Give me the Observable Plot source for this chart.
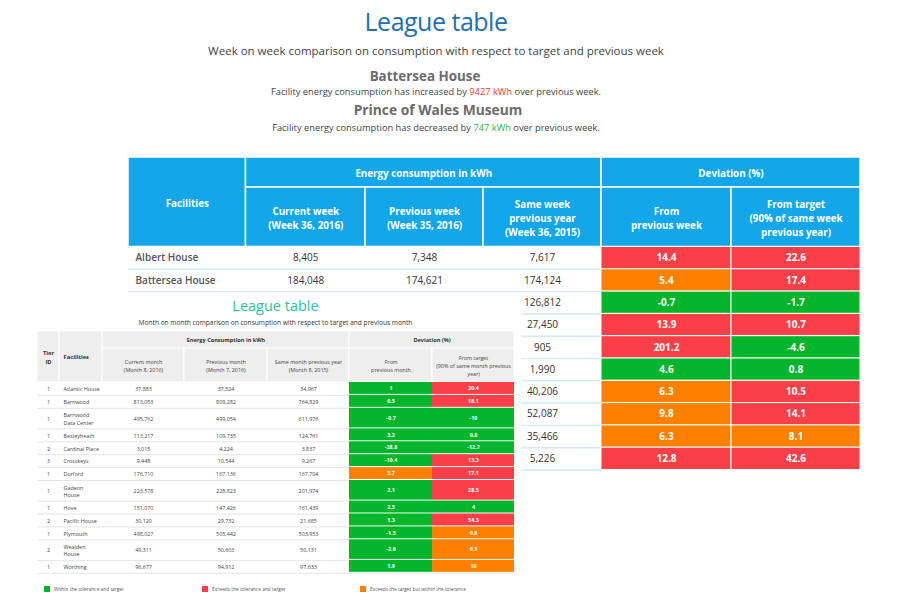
<!DOCTYPE html>
<html>
<head>
<meta charset="utf-8">
<script src="https://cdn.jsdelivr.net/npm/d3@7"></script>
<script src="https://cdn.jsdelivr.net/npm/@observablehq/plot@0.6"></script>
<style>
  body { margin: 0; background: #fff; }
  #page { position: relative; width: 900px; height: 600px; overflow: hidden; background: #fff; font-family: "Open Sans", sans-serif; }
  .ht { position: absolute; left: 0; width: 872px; text-align: center; white-space: nowrap; line-height: 1; }
  #t1 { top: 8.5px; font-size: 25px; color: #1f6fb0; letter-spacing: -0.5px; }
  #t2 { top: 44.5px; font-size: 11.5px; color: #444; }
  #t3 { top: 69.5px; font-size: 13.4px; font-weight: 700; color: #6b6b6b; left: -11px; }
  #t4 { top: 87px; font-size: 9.3px; color: #444; }
  #t5 { top: 102.5px; font-size: 13.8px; font-weight: 700; color: #6b6b6b; left: 2px; }
  #t6 { top: 122.5px; font-size: 9.3px; color: #444; }
  .up { color: #ef3e2a; }
  .down { color: #2fb24a; }
  #big { position: absolute; left: 128px; top: 157px; }
  #panel { position: absolute; left: 30px; top: 293px; width: 491px; height: 307px; background: #fff; }
  .st { position: absolute; left: 7px; width: 477px; text-align: center; white-space: nowrap; line-height: 1; }
  #s1 { top: 6.4px; font-size: 14.5px; color: #2fbf9f; }
  #s2 { top: 27.2px; font-size: 6.6px; color: #333; }
  #small { position: absolute; left: 7px; top: 38px; }
  #legend { position: absolute; left: 14px; top: 293px; }
  .sw-swatches { font-family: "Open Sans", sans-serif !important; font-size: 4.8px !important; color: #555; margin: 0 !important; min-height: 0 !important; line-height: 1; }
  .sw-swatch { width: 158px; margin-right: 0 !important; }
  .sw-swatch svg { margin-right: 4px !important; }
</style>
</head>
<body>
<div id="page">
  <div class="ht" id="t1">League table</div>
  <div class="ht" id="t2">Week on week comparison on consumption with respect to target and previous week</div>
  <div class="ht" id="t3"></div>
  <div class="ht" id="t4"></div>
  <div class="ht" id="t5"></div>
  <div class="ht" id="t6"></div>
  <div id="big"></div>
  <div id="panel">
    <div class="st" id="s1">League table</div>
    <div class="st" id="s2">Month on month comparison on consumption with respect to target and previous month</div>
    <div id="small"></div>
    <div id="legend"></div>
  </div>
</div>
<script>
// ---------------- DATA ----------------
// Highlights
const highlightFacilities = ["Battersea House", "Prince of Wales Museum"];
const highlightChange = [9427, 747];
const highlightDirection = ["increased", "decreased"];

// Weekly league table (rows 3-10: name / current / previous hidden in the picture)
const weekFacilities = ["Albert House", "Battersea House", null, null, null, null, null, null, null, null];
const weekCurrent = [8405, 184048, null, null, null, null, null, null, null, null];
const weekPrevious = [7348, 174621, null, null, null, null, null, null, null, null];
const weekSamePrevYear = [7617, 174124, 126812, 27450, 905, 1990, 40206, 52087, 35466, 5226];
const weekFromPrev = [14.4, 5.4, -0.7, 13.9, 201.2, 4.6, 6.3, 9.8, 6.3, 12.8];
const weekFromPrevStatus = ["R", "O", "G", "R", "R", "G", "O", "O", "O", "R"];
const weekFromTarget = [22.6, 17.4, -1.7, 10.7, -4.6, 0.8, 10.5, 14.1, 8.1, 42.6];
const weekFromTargetStatus = ["R", "R", "G", "R", "G", "G", "R", "R", "O", "R"];
const weekGroupHeaders = ["Energy consumption in kWh", "Deviation (%)"];
const weekColumnHeaders = ["Facilities", "Current week\n(Week 36, 2016)", "Previous week\n(Week 35, 2016)",
  "Same week\nprevious year\n(Week 36, 2015)", "From\nprevious week", "From target\n(90% of same week\nprevious year)"];

// Monthly league table
const monthTier = [1, 1, 1, 1, 2, 3, 1, 1, 1, 2, 1, 2, 1];
const monthFacilities = ["Atlantic House", "Barnwood", "Barnwood\nData Center", "Bexleyheath", "Cardinal Place", "Crosskeys",
  "Dorford", "Gadeon\nHouse", "Hove", "Pacific House", "Plymouth", "Wealden\nHouse", "Worthing"];
const monthCurrent = [37883, 813053, 495762, 113217, 3015, 9448, 176710, 223578, 151070, 30120, 498027, 49311, 96677];
const monthPrevious = [37524, 809282, 499054, 109735, 4224, 10544, 167136, 228823, 147426, 29732, 505442, 50603, 94912];
const monthSamePrevYear = [34967, 764829, 611976, 124761, 3837, 9267, 167704, 201974, 161439, 21685, 503953, 50131, 97633];
const monthFromPrev = [1, 0.5, -0.7, 3.2, -28.6, -10.4, 5.7, 2.1, 2.5, 1.3, -1.5, -2.6, 1.9];
const monthFromPrevStatus = ["G", "G", "G", "G", "G", "G", "O", "G", "G", "G", "G", "G", "G"];
const monthFromTarget = [20.4, 18.1, -10, 0.8, -12.7, 13.3, 17.1, 28.5, 4, 54.3, 9.8, 9.3, 10];
const monthFromTargetStatus = ["R", "R", "G", "G", "G", "R", "R", "R", "G", "R", "O", "O", "O"];
const monthGroupHeaders = ["Energy Consumption in kWh", "Deviation (%)"];
const monthColumnHeaders = ["Tier\nID", "Facilities", "Current month\n(Month 8, 2016)", "Previous month\n(Month 7, 2016)",
  "Same month previous year\n(Month 8, 2015)", "From\nprevious month", "From target\n(90% of same month previous\nyear)"];

// Status legend
const statusKeys = ["G", "R", "O"];
const statusLabels = ["Within the tolerance and target", "Exceeds the tolerance and target", "Exceeds the target but within the tolerance"];

// ---------------- STYLE / LAYOUT ----------------
const statusColors = ["#02b52b", "#fa3f48", "#fe8000"];
const FONT = "Open Sans";
const fmt = d3.format(",");
const cum = arr => arr.reduce((acc, w) => (acc.push(acc[acc.length - 1] + w), acc), [0]);
const mid = (a, b) => (a + b) / 2;

// ---------------- HEADLINES ----------------
document.getElementById("t3").textContent = highlightFacilities[0];
document.getElementById("t5").textContent = highlightFacilities[1];
function sentence(el, dir, val, cls) {
  const e = document.getElementById(el);
  e.append(`Facility energy consumption has ${dir} by `);
  const s = document.createElement("span"); s.className = cls; s.textContent = `${val} kWh`;
  e.append(s, " over previous week.");
}
sentence("t4", highlightDirection[0], highlightChange[0], "up");
sentence("t6", highlightDirection[1], highlightChange[1], "down");

// ---------------- WEEKLY TABLE ----------------
{
  const colW = [117.5, 119.5, 118, 118, 130, 129];
  const bx = cum(colW);
  const W = bx[bx.length - 1];
  const hdr = [0, 30, 89.5];
  const rowH = 22.3;
  const n = weekSamePrevYear.length;
  const H = hdr[2] + n * rowH + 2;

  const headCells = [
    {x1: bx[0], x2: bx[1], y1: hdr[0], y2: hdr[2], label: weekColumnHeaders[0]},
    {x1: bx[1], x2: bx[4], y1: hdr[0], y2: hdr[1], label: weekGroupHeaders[0]},
    {x1: bx[4], x2: bx[6], y1: hdr[0], y2: hdr[1], label: weekGroupHeaders[1]},
    ...[1, 2, 3, 4, 5].map(c => ({x1: bx[c], x2: bx[c + 1], y1: hdr[1], y2: hdr[2], label: weekColumnHeaders[c]}))
  ];
  const rows = d3.range(n).map(i => ({i, y1: hdr[2] + i * rowH, y2: hdr[2] + (i + 1) * rowH}));
  const devCells = rows.flatMap(r => [
    {x1: bx[4], x2: bx[5], y1: r.y1, y2: r.y2, status: weekFromPrevStatus[r.i], v: weekFromPrev[r.i]},
    {x1: bx[5], x2: bx[6], y1: r.y1, y2: r.y2, status: weekFromTargetStatus[r.i], v: weekFromTarget[r.i]}
  ]);
  const nameTexts = rows.filter(r => weekFacilities[r.i] != null)
    .map(r => ({x: bx[0] + 7, y: mid(r.y1, r.y2), t: weekFacilities[r.i]}));
  const numTexts = rows.flatMap(r => [[1, weekCurrent], [2, weekPrevious], [3, weekSamePrevYear]]
    .filter(([c, arr]) => arr[r.i] != null)
    .map(([c, arr]) => ({x: mid(bx[c], bx[c + 1]), y: mid(r.y1, r.y2), t: fmt(arr[r.i])})));

  const plot = Plot.plot({
    width: W, height: H, margin: 0,
    x: {domain: [0, W], range: [0, W], axis: null},
    y: {domain: [0, H], range: [0, H], axis: null},
    color: {domain: statusKeys, range: statusColors},
    style: {fontFamily: FONT, background: "transparent"},
    marks: [
      Plot.rect(headCells, {x1: "x1", x2: "x2", y1: "y1", y2: "y2", fill: "#13a6e8", stroke: "white", strokeWidth: 1.5}),
      Plot.text(headCells, {x: d => mid(d.x1, d.x2), y: d => mid(d.y1, d.y2), text: "label", fill: "white",
        fontWeight: 700, fontSize: 9.8, lineHeight: 1.42}),
      Plot.ruleY(rows, {y: "y2", x1: () => bx[0], x2: () => bx[4], stroke: "#d6e9f5", strokeWidth: 1.5}),
      Plot.rect(devCells, {x1: "x1", x2: "x2", y1: "y1", y2: "y2", fill: "status", stroke: "white", strokeWidth: 1}),
      Plot.text(devCells, {x: d => mid(d.x1, d.x2), y: d => mid(d.y1, d.y2), text: d => String(d.v), fill: "white",
        fontWeight: 700, fontSize: 10}),
      Plot.text(nameTexts, {x: "x", y: "y", text: "t", textAnchor: "start", fill: "#555", fontWeight: 600, fontSize: 10}),
      Plot.text(numTexts, {x: "x", y: "y", text: "t", fill: "#333", fontSize: 10})
    ]
  });
  document.getElementById("big").append(plot);
}

// ---------------- MONTHLY TABLE ----------------
{
  const colW = [22, 43, 82, 83, 82, 83, 82];
  const bx = cum(colW);
  const W = bx[bx.length - 1];
  const hdr = [0, 17, 51];
  const single = 12.9, double = 20.6;
  const heights = monthFacilities.map(f => f.includes("\n") ? double : single);
  const ys = cum(heights).map(v => v + hdr[2]);
  const H = ys[ys.length - 1] + 1;
  const n = monthFacilities.length;

  const headSpan = [
    {x1: bx[0], x2: bx[1], y1: hdr[0], y2: hdr[2], label: monthColumnHeaders[0]},
    {x1: bx[1], x2: bx[2], y1: hdr[0], y2: hdr[2], label: monthColumnHeaders[1]}
  ];
  const headGroup = [
    {x1: bx[2], x2: bx[5], y1: hdr[0], y2: hdr[1], label: monthGroupHeaders[0]},
    {x1: bx[5], x2: bx[7], y1: hdr[0], y2: hdr[1], label: monthGroupHeaders[1]}
  ];
  const headCols = [2, 3, 4, 5, 6].map(c => ({x1: bx[c], x2: bx[c + 1], y1: hdr[1], y2: hdr[2], label: monthColumnHeaders[c]}));
  const rows = d3.range(n).map(i => ({i, y1: ys[i], y2: ys[i + 1], y: mid(ys[i], ys[i + 1])}));
  const devCells = rows.flatMap(r => [
    {x1: bx[5], x2: bx[6], y1: r.y1, y2: r.y2, status: monthFromPrevStatus[r.i], v: monthFromPrev[r.i]},
    {x1: bx[6], x2: bx[7], y1: r.y1, y2: r.y2, status: monthFromTargetStatus[r.i], v: monthFromTarget[r.i]}
  ]);
  const numTexts = rows.flatMap(r => [[2, monthCurrent], [3, monthPrevious], [4, monthSamePrevYear]]
    .map(([c, arr]) => ({x: mid(bx[c], bx[c + 1]), y: r.y, t: fmt(arr[r.i])})));
  const txt = {fill: "#444", fontSize: 5.4, lineHeight: 1.35};

  const plot = Plot.plot({
    width: W, height: H, margin: 0,
    x: {domain: [0, W], range: [0, W], axis: null},
    y: {domain: [0, H], range: [0, H], axis: null},
    color: {domain: statusKeys, range: statusColors},
    style: {fontFamily: FONT, background: "white"},
    marks: [
      Plot.rect([...headSpan, ...headGroup, ...headCols], {x1: "x1", x2: "x2", y1: "y1", y2: "y2", fill: "#eeeeee", stroke: "white", strokeWidth: 1}),
      Plot.text(headSpan.slice(0, 1), {x: d => mid(d.x1, d.x2), y: d => mid(d.y1, d.y2), text: "label",
        fill: "#333", fontWeight: 700, fontSize: 5.8, lineHeight: 1.45}),
      Plot.text(headSpan.slice(1), {x: d => d.x1 + 4, y: d => mid(d.y1, d.y2), text: "label", textAnchor: "start",
        fill: "#333", fontWeight: 700, fontSize: 5.8}),
      Plot.text(headGroup, {x: d => mid(d.x1, d.x2), y: d => mid(d.y1, d.y2), text: "label",
        fill: "#333", fontWeight: 700, fontSize: 5.6}),
      Plot.text(headCols, {x: d => mid(d.x1, d.x2), y: d => mid(d.y1, d.y2), text: "label",
        fill: "#444", fontSize: 5.4, lineHeight: 1.5}),
      Plot.ruleY(rows, {y: "y2", x1: () => bx[0], x2: () => bx[7], stroke: "#e4e4e4", strokeWidth: 1}),
      Plot.rect(devCells, {x1: "x1", x2: "x2", y1: "y1", y2: "y2", fill: "status", insetBottom: 1}),
      Plot.text(devCells, {x: d => mid(d.x1, d.x2), y: d => mid(d.y1, d.y2) - 0.5, text: d => String(d.v), fill: "white",
        fontWeight: 700, fontSize: 5.4}),
      Plot.text(rows, {x: () => mid(bx[0], bx[1]), y: "y", text: d => String(monthTier[d.i]), ...txt}),
      Plot.text(rows, {x: () => bx[1] + 4, y: "y", text: d => monthFacilities[d.i], textAnchor: "start", ...txt}),
      Plot.text(numTexts, {x: "x", y: "y", text: "t", ...txt})
    ]
  });
  document.getElementById("small").append(plot);

  const legend = Plot.legend({
    legend: "swatches",
    className: "sw",
    swatchSize: 6,
    color: {domain: statusLabels, range: statusColors}
  });
  document.getElementById("legend").append(legend);
}
</script>
</body>
</html>
